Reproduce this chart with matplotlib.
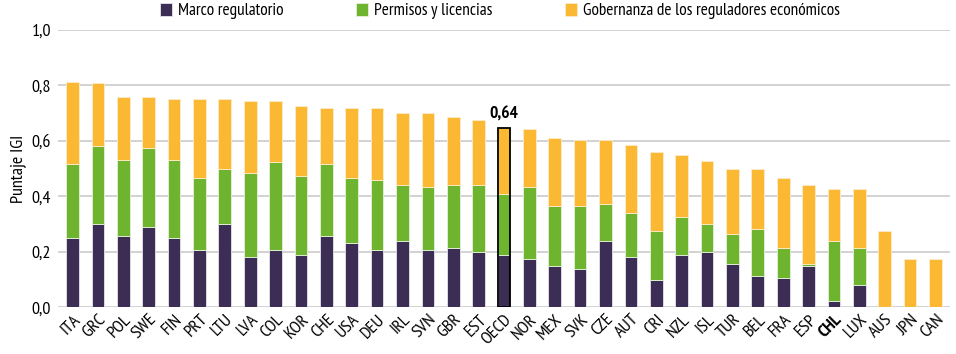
import numpy as np
import matplotlib.pyplot as plt
from matplotlib.ticker import FuncFormatter

plt.rcParams['font.family'] = ['PT Sans Narrow', 'Asap Condensed', 'DejaVu Sans']

countries = ["ITA", "GRC", "POL", "SWE", "FIN", "PRT", "LTU", "LVA", "COL", "KOR",
             "CHE", "USA", "DEU", "IRL", "SVN", "GBR", "EST", "OECD", "NOR", "MEX",
             "SVK", "CZE", "AUT", "CRI", "NZL", "ISL", "TUR", "BEL", "FRA", "ESP",
             "CHL", "LUX", "AUS", "JPN", "CAN"]
# cumulative levels
marco = [0.249, 0.300, 0.257, 0.290, 0.249, 0.207, 0.300, 0.182, 0.207, 0.189,
         0.257, 0.232, 0.207, 0.239, 0.207, 0.215, 0.200, 0.189, 0.173, 0.149,
         0.139, 0.240, 0.182, 0.099, 0.189, 0.199, 0.156, 0.114, 0.107, 0.149,
         0.023, 0.080, 0.0, 0.0, 0.0]
permisos_top = [0.517, 0.583, 0.532, 0.575, 0.532, 0.468, 0.499, 0.485, 0.525, 0.474,
                0.517, 0.468, 0.458, 0.441, 0.434, 0.441, 0.441, 0.409, 0.434, 0.367,
                0.367, 0.374, 0.340, 0.275, 0.324, 0.300, 0.265, 0.283, 0.215, 0.155,
                0.240, 0.215, 0.0, 0.0, 0.0]
total = [0.811, 0.810, 0.760, 0.760, 0.752, 0.752, 0.752, 0.744, 0.744, 0.727,
         0.718, 0.718, 0.718, 0.700, 0.700, 0.686, 0.677, 0.646, 0.644, 0.610,
         0.603, 0.603, 0.585, 0.560, 0.551, 0.526, 0.500, 0.500, 0.468, 0.441,
         0.426, 0.426, 0.275, 0.174, 0.174]

marco = np.array(marco)
permisos = np.array(permisos_top) - marco
gobernanza = np.array(total) - np.array(permisos_top)

c_marco = '#3c2d54'
c_perm = '#6eb42e'
c_gob = '#fbb933'

fig = plt.figure(figsize=(9.56, 3.54), dpi=100)
ax = fig.add_axes([58/956, 1 - 307.3/354, 892/956, 277.3/354])

x = np.arange(len(countries))
w = 0.5
ax.bar(x, marco, w, color=c_marco, edgecolor='#e8e4ee', linewidth=0.6, label='Marco regulatorio', zorder=3)
ax.bar(x, permisos, w, bottom=marco, color=c_perm, edgecolor='#e6f2da', linewidth=0.6,
       label='Permisos y licencias', zorder=3)
ax.bar(x, gobernanza, w, bottom=np.array(permisos_top), color=c_gob, edgecolor='#fdeccc',
       linewidth=0.6, label='Gobernanza de los reguladores económicos', zorder=3)

# OECD highlight
i = countries.index("OECD")
ax.bar(x[i], total[i], w, color='none', edgecolor='black', linewidth=1.3, zorder=4)
ax.text(x[i], total[i] + 0.02, "0,64", ha='center', va='bottom', fontsize=12.5,
        fontweight='bold')

ax.set_xlim(-0.57, len(countries) - 0.43)
ax.set_ylim(0, 1.0)
ax.set_yticks(np.arange(0, 1.01, 0.2))
ax.yaxis.set_major_formatter(FuncFormatter(lambda v, p: f"{v:.1f}".replace('.', ',')))
ax.grid(axis='y', color='#cfcfcf', linewidth=1.3, zorder=0)
ax.set_axisbelow(True)
for s in ax.spines.values():
    s.set_visible(False)
ax.tick_params(axis='both', length=0, labelsize=13)
ax.tick_params(axis='y', pad=5)
ax.tick_params(axis='x', pad=3)

ax.set_xticks(x)
ax.set_xticklabels(countries, rotation=45, ha='right', rotation_mode='anchor')
for lbl in ax.get_xticklabels():
    if lbl.get_text() == 'CHL':
        lbl.set_fontweight('bold')

ax.set_ylabel('Puntaje IGI', fontsize=13, labelpad=4)

fig.legend(loc='upper center', bbox_to_anchor=(0.523, 1.035), ncol=3, frameon=False,
           fontsize=12.4, handlelength=0.7, handleheight=0.75, columnspacing=4.2,
           handletextpad=0.35)

fig.savefig('out.png', dpi=100)
